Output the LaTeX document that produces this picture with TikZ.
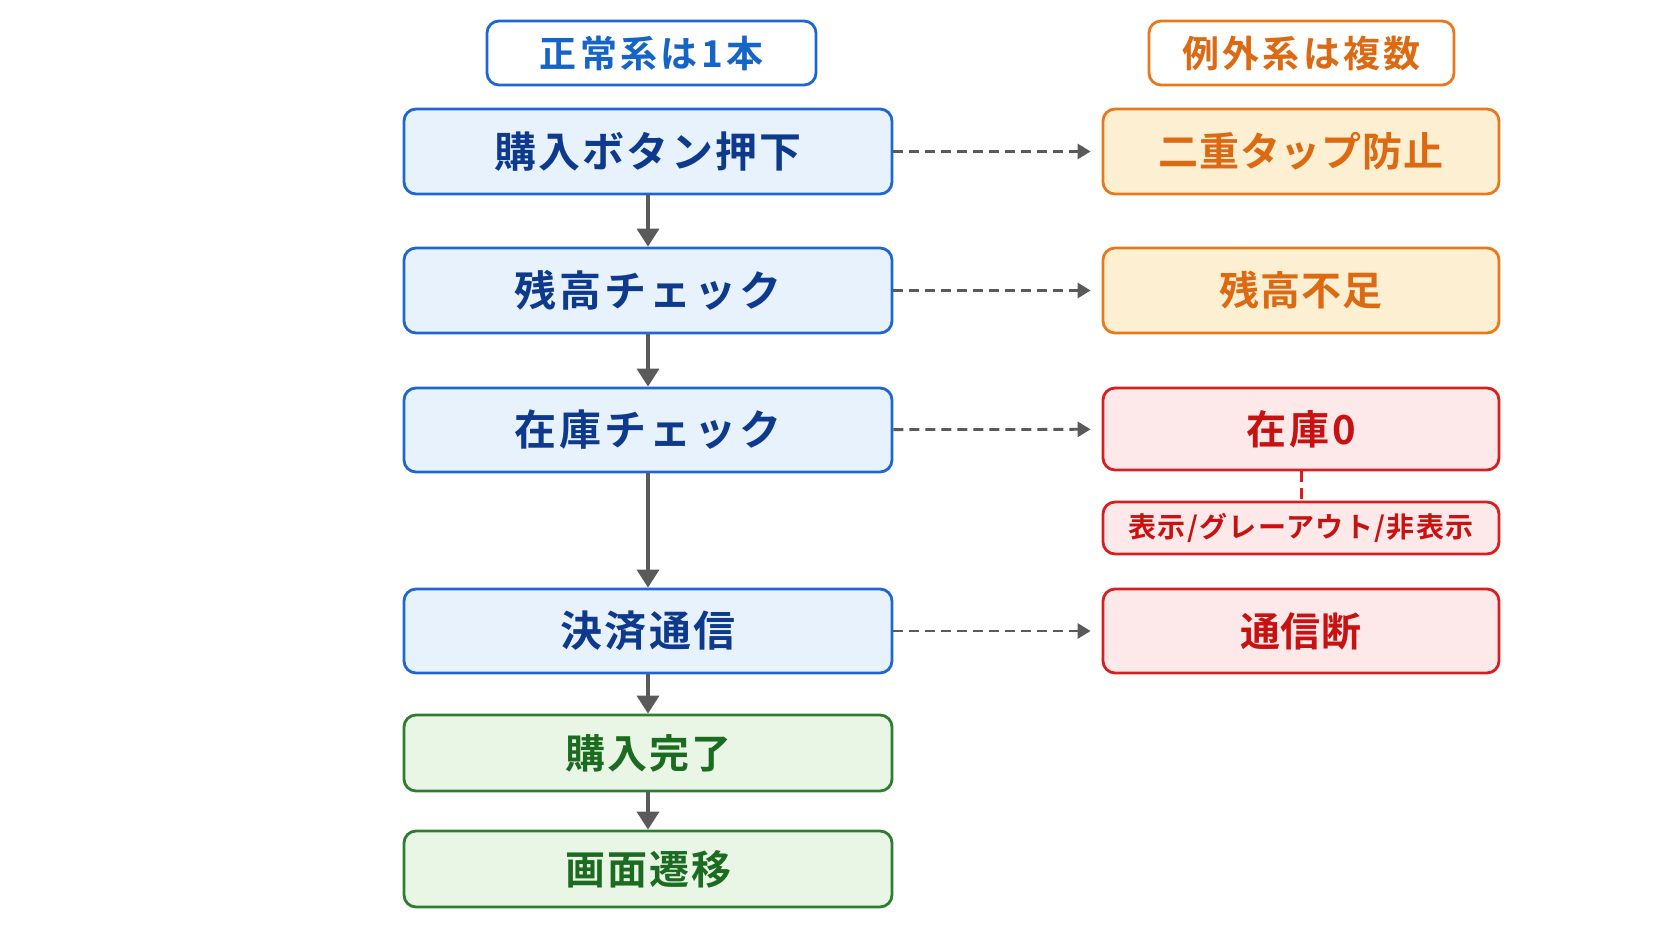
\documentclass[tikz,border=0pt]{standalone}
\usepackage{fontspec}
\setmainfont{Noto Sans CJK JP}[BoldFont={Noto Sans CJK JP Bold}]
\usetikzlibrary{arrows.meta}
\definecolor{bBorder}{HTML}{1E66D2}
\definecolor{bFill}{HTML}{E8F2FD}
\definecolor{bText}{HTML}{0D3A8C}
\definecolor{hBlue}{HTML}{1565C8}
\definecolor{oBorder}{HTML}{E8781E}
\definecolor{oFill}{HTML}{FDF0D2}
\definecolor{oText}{HTML}{DC6A12}
\definecolor{rBorder}{HTML}{D81E1E}
\definecolor{rFill}{HTML}{FDE9E9}
\definecolor{rText}{HTML}{C81212}
\definecolor{gBorder}{HTML}{2E7D32}
\definecolor{gFill}{HTML}{E9F6E5}
\definecolor{gText}{HTML}{1B6B20}
\definecolor{arr}{HTML}{5A5A5A}
\tikzset{
  box/.style={rounded corners=12pt, line width=2.8pt, align=center, inner sep=0pt, font=\bfseries\fontsize{42}{48}\selectfont\addfontfeature{LetterSpace=5}},
  leftbox/.style={box, minimum width=488pt},
  rightbox/.style={box, minimum width=396pt, font=\bfseries\fontsize{40}{46}\selectfont\addfontfeature{LetterSpace=2}},
  bluebox/.style={leftbox, draw=bBorder, fill=bFill, text=bText},
  greenbox/.style={leftbox, draw=gBorder, fill=gFill, text=gText, minimum height=76pt, font=\bfseries\fontsize{40}{46}\selectfont\addfontfeature{LetterSpace=5}},
  orangebox/.style={rightbox, draw=oBorder, fill=oFill, text=oText},
  redbox/.style={rightbox, draw=rBorder, fill=rFill, text=rText},
  header/.style={rounded corners=12pt, line width=2.8pt, fill=white, minimum height=64pt, inner sep=0pt, font=\bfseries\fontsize{37}{44}\selectfont\addfontfeature{LetterSpace=9}},
  flow/.style={draw=arr, line width=3.5pt, -{Triangle[length=18pt,width=22pt]}},
  branch/.style={draw=arr, line width=2.8pt, dash pattern=on 10pt off 6pt, -{Triangle[length=13pt,width=15pt]}, shorten >=11pt},
}
\begin{document}
\begin{tikzpicture}[x=1pt,y=-1pt]
\useasboundingbox (0,0) rectangle (1672,941);
\fill[white] (0,0) rectangle (1672,941);
% headers
\node[header, draw=bBorder, text=hBlue, minimum width=329pt] (h1) at (651.5,53) {正常系は1本};
\node[header, draw=oBorder, text=oText, minimum width=305pt] (h2) at (1301.5,53) {例外系は複数};
% left column
\node[bluebox, minimum height=85pt] (b1) at (648,151.5) {購入ボタン押下};
\node[bluebox, minimum height=85pt] (b2) at (648,290.5) {\addfontfeature{LetterSpace=7}残高チェック};
\node[bluebox, minimum height=84pt] (b3) at (648,430) {\addfontfeature{LetterSpace=7}在庫チェック};
\node[bluebox, minimum height=84pt] (b4) at (648,631) {決済通信};
\node[greenbox] (b5) at (648,753) {購入完了};
\node[greenbox] (b6) at (648,869) {画面遷移};
% right column
\node[orangebox, minimum height=85pt] (r1) at (1301,151.5) {二重タップ防止};
\node[orangebox, minimum height=85pt] (r2) at (1301,290.5) {残高不足};
\node[redbox, minimum height=82pt] (r3) at (1301,429) {\addfontfeature{LetterSpace=8}在庫0};
\node[redbox, minimum height=52pt, font=\bfseries\fontsize{28}{32}\selectfont\addfontfeature{LetterSpace=5}] (sub) at (1301,528) {表示/グレーアウト/非表示};
\node[redbox, minimum height=84pt] (r4) at (1301,631) {通信断};
% flow arrows
\draw[flow] (b1) -- (b2);
\draw[flow] (b2) -- (b3);
\draw[flow] (b3) -- (b4);
\draw[flow] (b4) -- (b5);
\draw[flow] (b5) -- (b6);
% branch arrows
\draw[branch] (b1) -- (r1);
\draw[branch] (b2) -- (r2);
\draw[branch] (b3) -- (r3);
\draw[branch] (b4) -- (r4);
\draw[draw=rBorder, line width=3pt, dash pattern=on 11pt off 6pt] (r3) -- (sub);
\end{tikzpicture}
\end{document}
